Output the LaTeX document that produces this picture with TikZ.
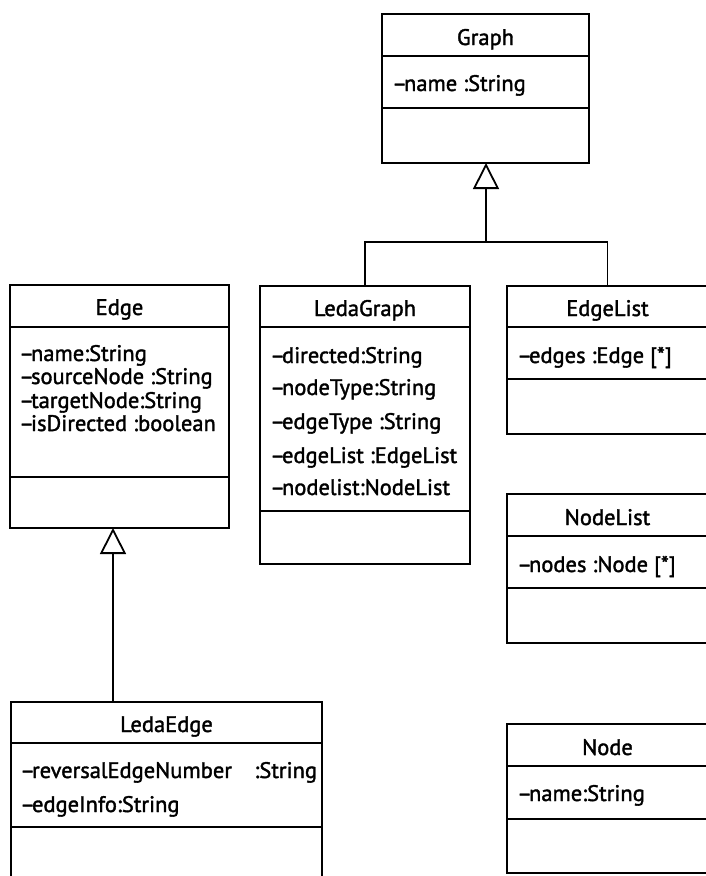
\documentclass[tikz,border=0pt]{standalone}
\usepackage{fontspec}
\setmainfont{PT Sans}
\newfontfamily\umlfont[FakeBold=1.6]{PT Sans}
\usetikzlibrary{arrows.meta}
\newcommand{\priv}{\textendash\kern-3pt}
\begin{document}
\begin{tikzpicture}[x=1pt,y=-1pt,
  classbox/.style={draw, line width=1.8pt, rectangle, anchor=north west, inner sep=0pt, outer sep=0pt},
  sep/.style={line width=1.8pt},
  ctitle/.style={anchor=base, inner sep=0pt, font=\umlfont\fontsize{22.5}{26}\selectfont},
  attr/.style={anchor=base west, inner sep=0pt, font=\umlfont\fontsize{22.5}{26}\selectfont},
  gen/.style={line width=1.8pt, -{Triangle[open, length=26pt, width=26pt, line width=1.8pt]}},
  link/.style={line width=1.8pt}]
\useasboundingbox (0,0) rectangle (706,876);
\clip (0,0) rectangle (706,876);

% Graph
\node[classbox, minimum width=207pt, minimum height=149pt] (graph) at (382,14) {};
\draw[sep] (382,56) -- (589,56);
\draw[sep] (382,108) -- (589,108);
\node[ctitle] (graphT) at (485.5,45) {Graph};
\node[attr] (graphA1) at (392,91) {\priv name :String};

% Edge
\node[classbox, minimum width=219pt, minimum height=243pt] (edge) at (10,285) {};
\draw[sep] (10,327) -- (229,327);
\draw[sep] (10,477) -- (229,477);
\node[ctitle] (edgeT) at (119.5,315) {Edge};
\node[attr] (edgeA1) at (19,361) {\priv name:String};
\node[attr] (edgeA2) at (19,384) {\priv sourceNode :String};
\node[attr] (edgeA3) at (19,408) {\priv targetNode:String};
\node[attr] (edgeA4) at (19,431) {\priv isDirected :boolean};

% LedaGraph
\node[classbox, minimum width=210pt, minimum height=278pt] (lg) at (260,286) {};
\draw[sep] (260,327) -- (470,327);
\draw[sep] (260,511) -- (470,511);
\node[ctitle] (lgT) at (365,316) {LedaGraph};
\node[attr] (lgA1) at (270,363) {\priv directed:String};
\node[attr] (lgA2) at (270,395) {\priv nodeType:String};
\node[attr] (lgA3) at (270,429) {\priv edgeType :String};
\node[attr] (lgA4) at (270,463) {\priv edgeList :EdgeList};
\node[attr] (lgA5) at (270,495) {\priv nodelist:NodeList};

% EdgeList
\node[classbox, minimum width=201pt, minimum height=148pt] (el) at (507,286) {};
\draw[sep] (507,327) -- (708,327);
\draw[sep] (507,379) -- (708,379);
\node[ctitle] (elT) at (607.5,316) {EdgeList};
\node[attr] (elA1) at (517,363) {\priv edges :Edge [*]};

% NodeList
\node[classbox, minimum width=201pt, minimum height=149pt] (nl) at (507,494) {};
\draw[sep] (507,536) -- (708,536);
\draw[sep] (507,588) -- (708,588);
\node[ctitle] (nlT) at (607.5,525) {NodeList};
\node[attr] (nlA1) at (517,572) {\priv nodes :Node [*]};

% Node
\node[classbox, minimum width=201pt, minimum height=149pt] (nd) at (507,724) {};
\draw[sep] (507,766) -- (708,766);
\draw[sep] (507,819) -- (708,819);
\node[ctitle] (ndT) at (607.5,755) {Node};
\node[attr] (ndA1) at (517,801) {\priv name:String};

% LedaEdge
\node[classbox, minimum width=311pt, minimum height=200pt] (le) at (11,702) {};
\draw[sep] (11,743) -- (322,743);
\draw[sep] (11,827) -- (322,827);
\node[ctitle] (leT) at (166.5,732) {LedaEdge};
\node[attr] (leA1) at (20,778) {\priv reversalEdgeNumber\quad :String};
\node[attr] (leA2) at (20,812) {\priv edgeInfo:String};

% Generalizations
\coordinate (j) at (486,242);
\draw[gen] (lg.north) |- (j) -- (j |- graph.south);
\draw[link] (el.north) |- (j);
\coordinate (ee) at (113,702);
\draw[gen] (ee) -- (ee |- edge.south);
\end{tikzpicture}
\end{document}
